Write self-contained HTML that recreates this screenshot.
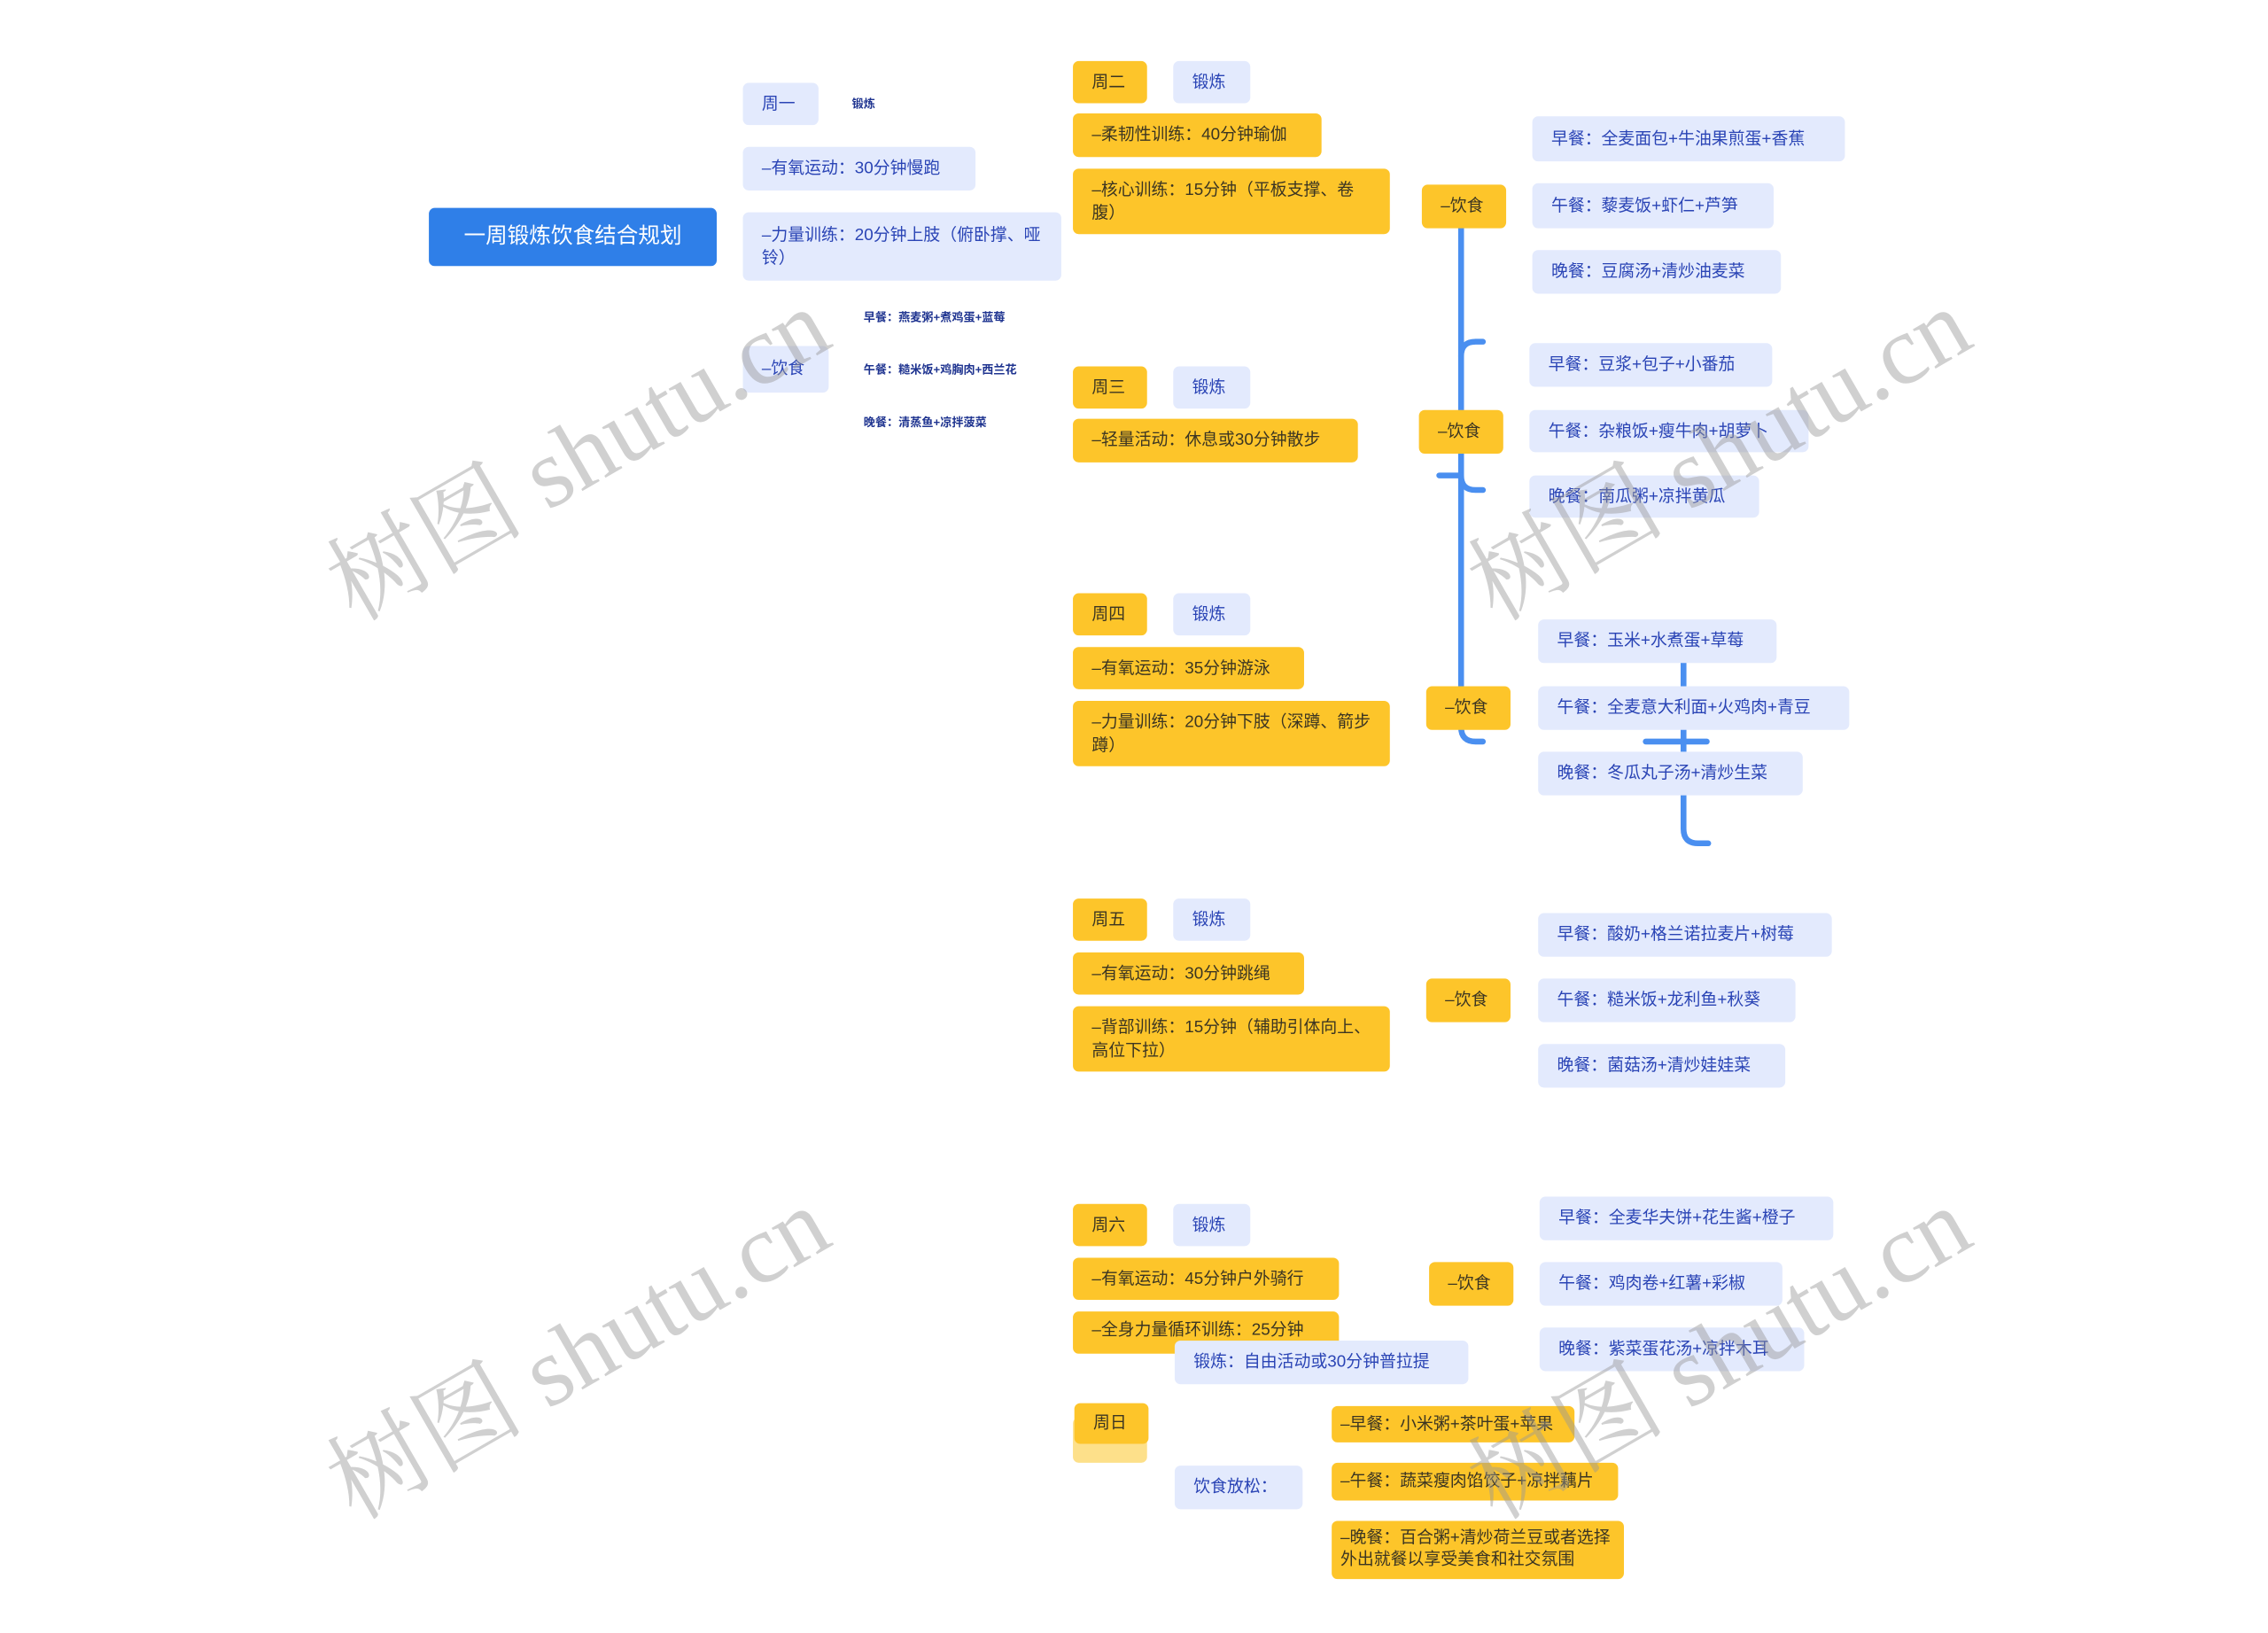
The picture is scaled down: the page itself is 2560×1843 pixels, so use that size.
<!DOCTYPE html>
<html><head><meta charset="utf-8"><style>
html,body{margin:0;padding:0;background:#fff;}
body{width:2560px;height:1843px;overflow:hidden;position:relative;}
#s{position:absolute;left:0;top:0;width:1560px;height:1123px;transform:scale(1.641);transform-origin:0 0;font-family:"Liberation Sans","Noto Sans CJK SC",sans-serif;}
.n{position:absolute;box-sizing:border-box;border-radius:4px;font-size:11.5px;line-height:16px;padding:0 13px;display:flex;align-items:center;white-space:nowrap;}
.y{background:#fdc52a;color:#3b3522;}
.b{background:#e3eafd;color:#2a44b5;}
.w{white-space:normal;}
.t{position:absolute;font-size:8px;color:#1f3490;font-weight:bold;white-space:nowrap;}
.wm{position:absolute;width:0;height:0;}
.wm span{position:absolute;left:0;top:0;transform:translate(-50%,-50%) rotate(-30deg);font-family:"Liberation Serif","Noto Serif CJK SC",serif;font-size:68px;color:rgba(150,150,150,0.45);white-space:nowrap;}
</style></head><body><div id="s">
<svg width="1560" height="1123" style="position:absolute;left:0;top:0" fill="none" stroke="#4a8ff0" stroke-width="4" stroke-linecap="round">
<path d="M1005 150 V500 Q1005 510 1015 510 H1020"/>
<path d="M1005 245 Q1005 235 1015 235 H1020"/>
<path d="M1005 327 Q1005 337 1015 337 H1020"/>
<path d="M990 327 H1005"/>
<path d="M1158 440 V570 Q1158 580 1168 580 H1175"/>
<path d="M1132 510 H1174"/>
</svg>
<div class="n" style="left:295px;top:143px;width:198px;height:40px;background:#2f7fe8;color:#fff;font-size:15px;justify-content:center;border-radius:4px">一周锻炼饮食结合规划</div>

<div class="n b" style="left:511px;top:57px;width:52px;height:29px">周一</div>
<div class="t" style="left:586px;top:66px">锻炼</div>
<div class="n b" style="left:511px;top:101px;width:160px;height:30px">–有氧运动：30分钟慢跑</div>
<div class="n b w" style="left:511px;top:146px;width:219px;height:47px">–力量训练：20分钟上肢（俯卧撑、哑铃）</div>
<div class="n b" style="left:511px;top:238px;width:59px;height:32px">–饮食</div>
<div class="t" style="left:594px;top:213px">早餐：燕麦粥+煮鸡蛋+蓝莓</div>
<div class="t" style="left:594px;top:249px">午餐：糙米饭+鸡胸肉+西兰花</div>
<div class="t" style="left:594px;top:285px">晚餐：清蒸鱼+凉拌菠菜</div>

<div class="n y" style="left:738px;top:42px;width:51px;height:29px">周二</div>
<div class="n b" style="left:807px;top:42px;width:53px;height:29px">锻炼</div>
<div class="n y" style="left:738px;top:78px;width:171px;height:30px">–柔韧性训练：40分钟瑜伽</div>
<div class="n y w" style="left:738px;top:116px;width:218px;height:45px">–核心训练：15分钟（平板支撑、卷腹）</div>
<div class="n y" style="left:978px;top:127px;width:58px;height:30px">–饮食</div>
<div class="n b" style="left:1054px;top:80px;width:215px;height:31px">早餐：全麦面包+牛油果煎蛋+香蕉</div>
<div class="n b" style="left:1054px;top:126px;width:166px;height:31px">午餐：藜麦饭+虾仁+芦笋</div>
<div class="n b" style="left:1054px;top:172px;width:171px;height:30px">晚餐：豆腐汤+清炒油麦菜</div>

<div class="n y" style="left:738px;top:252px;width:51px;height:29px">周三</div>
<div class="n b" style="left:807px;top:252px;width:53px;height:29px">锻炼</div>
<div class="n y" style="left:738px;top:288px;width:196px;height:30px">–轻量活动：休息或30分钟散步</div>
<div class="n y" style="left:976px;top:282px;width:58px;height:30px">–饮食</div>
<div class="n b" style="left:1052px;top:236px;width:167px;height:30px">早餐：豆浆+包子+小番茄</div>
<div class="n b" style="left:1052px;top:282px;width:192px;height:29px">午餐：杂粮饭+瘦牛肉+胡萝卜</div>
<div class="n b" style="left:1052px;top:327px;width:158px;height:29px">晚餐：南瓜粥+凉拌黄瓜</div>

<div class="n y" style="left:738px;top:408px;width:51px;height:29px">周四</div>
<div class="n b" style="left:807px;top:408px;width:53px;height:29px">锻炼</div>
<div class="n y" style="left:738px;top:445px;width:159px;height:29px">–有氧运动：35分钟游泳</div>
<div class="n y w" style="left:738px;top:482px;width:218px;height:45px">–力量训练：20分钟下肢（深蹲、箭步蹲）</div>
<div class="n y" style="left:981px;top:472px;width:58px;height:30px">–饮食</div>
<div class="n b" style="left:1058px;top:426px;width:164px;height:30px">早餐：玉米+水煮蛋+草莓</div>
<div class="n b" style="left:1058px;top:472px;width:214px;height:30px">午餐：全麦意大利面+火鸡肉+青豆</div>
<div class="n b" style="left:1058px;top:517px;width:182px;height:30px">晚餐：冬瓜丸子汤+清炒生菜</div>

<div class="n y" style="left:738px;top:618px;width:51px;height:29px">周五</div>
<div class="n b" style="left:807px;top:618px;width:53px;height:29px">锻炼</div>
<div class="n y" style="left:738px;top:655px;width:159px;height:29px">–有氧运动：30分钟跳绳</div>
<div class="n y w" style="left:738px;top:692px;width:218px;height:45px">–背部训练：15分钟（辅助引体向上、高位下拉）</div>
<div class="n y" style="left:981px;top:673px;width:58px;height:30px">–饮食</div>
<div class="n b" style="left:1058px;top:628px;width:202px;height:30px">早餐：酸奶+格兰诺拉麦片+树莓</div>
<div class="n b" style="left:1058px;top:673px;width:177px;height:30px">午餐：糙米饭+龙利鱼+秋葵</div>
<div class="n b" style="left:1058px;top:718px;width:170px;height:30px">晚餐：菌菇汤+清炒娃娃菜</div>

<div class="n y" style="left:738px;top:828px;width:51px;height:29px">周六</div>
<div class="n b" style="left:807px;top:828px;width:53px;height:29px">锻炼</div>
<div class="n y" style="left:738px;top:865px;width:183px;height:29px">–有氧运动：45分钟户外骑行</div>
<div class="n y" style="left:738px;top:902px;width:183px;height:29px;align-items:flex-start;padding-top:5px">–全身力量循环训练：25分钟</div>
<div class="n b" style="left:808px;top:922px;width:202px;height:30px">锻炼：自由活动或30分钟普拉提</div>
<div class="n y" style="left:983px;top:868px;width:58px;height:30px">–饮食</div>
<div class="n b" style="left:1059px;top:823px;width:202px;height:30px">早餐：全麦华夫饼+花生酱+橙子</div>
<div class="n b" style="left:1059px;top:868px;width:167px;height:30px">午餐：鸡肉卷+红薯+彩椒</div>
<div class="n b" style="left:1059px;top:913px;width:182px;height:30px">晚餐：紫菜蛋花汤+凉拌木耳</div>

<div class="n" style="left:738px;top:975px;width:51px;height:31px;background:#fde08a"></div>
<div class="n y" style="left:739px;top:965px;width:51px;height:28px">周日</div>
<div class="n b" style="left:808px;top:1008px;width:88px;height:30px">饮食放松：</div>
<div class="n y" style="left:916px;top:967px;width:167px;height:25px;padding:0 6px">–早餐：小米粥+茶叶蛋+苹果</div>
<div class="n y" style="left:916px;top:1006px;width:197px;height:26px;padding:0 6px">–午餐：蔬菜瘦肉馅饺子+凉拌藕片</div>
<div class="n y w" style="left:916px;top:1046px;width:201px;height:40px;padding:0 6px;line-height:15px">–晚餐：百合粥+清炒荷兰豆或者选择外出就餐以享受美食和社交氛围</div>

<div class="wm" style="left:395px;top:308px"><span>树图 shutu.cn</span></div>
<div class="wm" style="left:1180px;top:308px"><span>树图 shutu.cn</span></div>
<div class="wm" style="left:395px;top:926px"><span>树图 shutu.cn</span></div>
<div class="wm" style="left:1180px;top:926px"><span>树图 shutu.cn</span></div>
</div></body></html>
